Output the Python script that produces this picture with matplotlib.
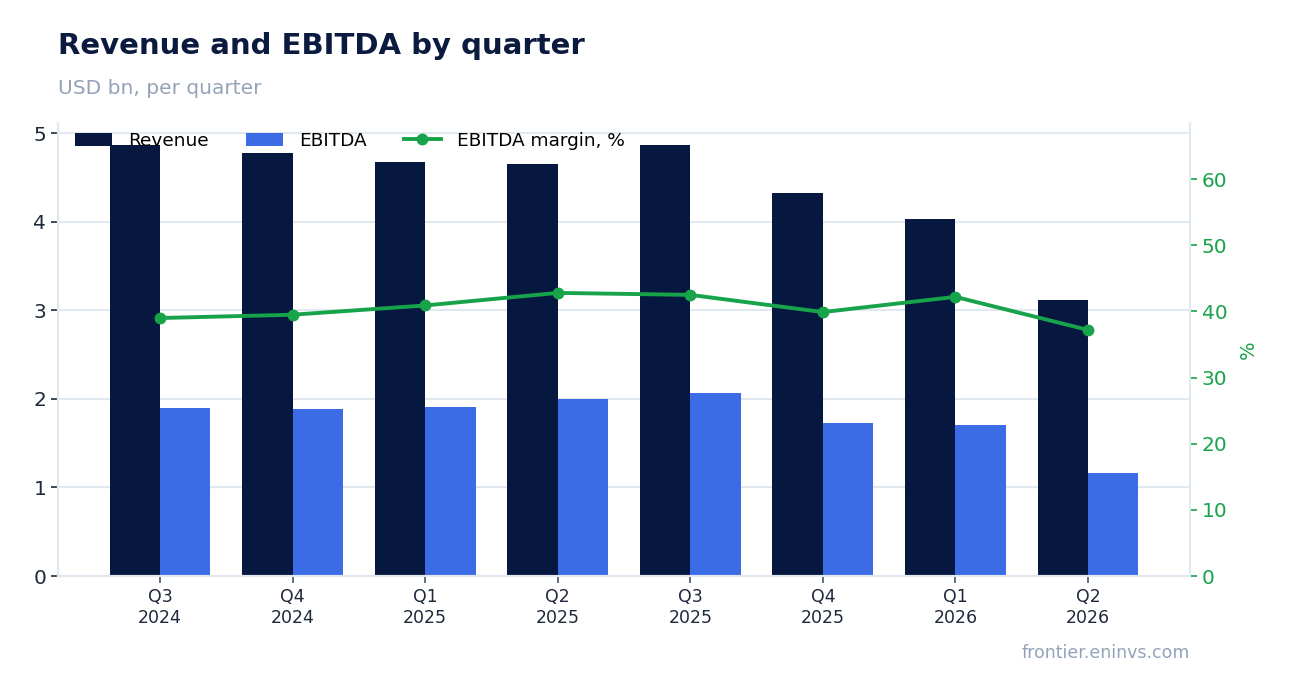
import numpy as np
import matplotlib
matplotlib.use("Agg")
import matplotlib.pyplot as plt

quarters = ["Q3\n2024", "Q4\n2024", "Q1\n2025", "Q2\n2025",
            "Q3\n2025", "Q4\n2025", "Q1\n2026", "Q2\n2026"]
revenue = [4.87, 4.78, 4.67, 4.65, 4.86, 4.32, 4.03, 3.12]
ebitda = [1.90, 1.89, 1.91, 2.00, 2.07, 1.73, 1.71, 1.16]
margin = [39.0, 39.5, 40.9, 42.8, 42.5, 39.9, 42.2, 37.2]

NAVY = "#061740"
BLUE = "#3b6ce6"
GREEN = "#16a34a"
GRID = "#e2e8f0"
GRAYTXT = "#94a3b8"
DARK = "#1e293b"

fig = plt.figure(figsize=(12.89, 6.93), dpi=100)
ax = fig.add_axes([0.045, 0.1688, 0.8782, 0.6537])
ax2 = ax.twinx()

x = np.arange(len(quarters))
w = 0.38
ax.bar(x - w / 2, revenue, w, color=NAVY, label="Revenue", zorder=2)
ax.bar(x + w / 2, ebitda, w, color=BLUE, label="EBITDA", zorder=2)
ax2.plot(x, margin, color=GREEN, lw=2.8, marker="o", ms=7.5, label="EBITDA margin, %")

ax.set_xlim(-0.77, len(quarters) - 1 + 0.77)
ax.set_ylim(0, max(revenue) * 1.05)
ax2.set_ylim(0, max(margin) * 1.6)

ax.set_xticks(x)
ax.set_xticklabels(quarters, fontsize=12.5, color=DARK)
ax.set_yticks([0, 1, 2, 3, 4, 5])
ax.tick_params(axis="y", labelsize=14.5, colors=DARK, length=5, width=1.2)
ax.tick_params(axis="x", length=5, width=1.2, colors="#475569", labelcolor=DARK)
ax.yaxis.grid(True, color=GRID, lw=1.5, zorder=0)
ax.set_axisbelow(True)

ax2.set_yticks([0, 10, 20, 30, 40, 50, 60])
ax2.tick_params(axis="y", labelsize=14.5, colors=GREEN, length=5, width=1.2)
ax2.set_ylabel("%", color=GREEN, fontsize=14, labelpad=8)

for a in (ax, ax2):
    a.spines["top"].set_visible(False)
    for s in ("left", "right", "bottom"):
        a.spines[s].set_color(GRID)
        a.spines[s].set_linewidth(1.5)

h1, l1 = ax.get_legend_handles_labels()
h2, l2 = ax2.get_legend_handles_labels()
ax2.legend(h1 + h2, l1 + l2, loc="upper left", bbox_to_anchor=(0.0, 1.017),
           ncol=3, frameon=False, fontsize=13.3, handlelength=2.0,
           columnspacing=2.0, handletextpad=0.9)

fig.text(0.045, 0.922, "Revenue and EBITDA by quarter", fontsize=21,
         fontweight="bold", color="#0b1a3f")
fig.text(0.045, 0.865, "USD bn, per quarter", fontsize=14.5, color=GRAYTXT)
fig.text(0.9232, 0.05, "frontier.eninvs.com", fontsize=12.5, color=GRAYTXT,
         ha="right")

fig.savefig("out.png", dpi=100)
